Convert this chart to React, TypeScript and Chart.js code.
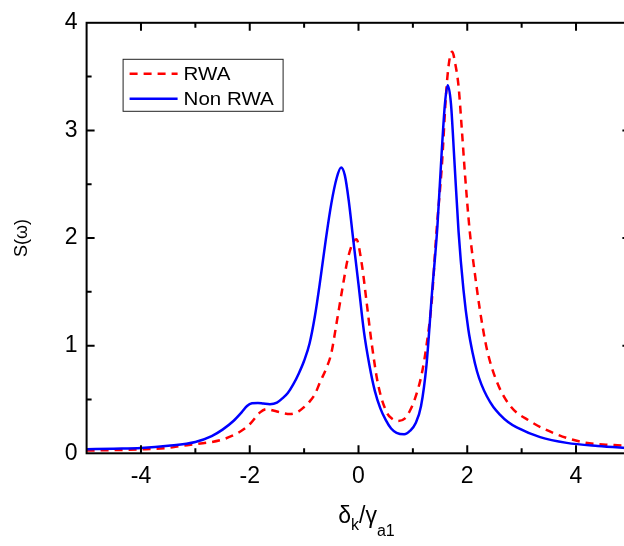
import React, { useEffect, useRef } from "react";
import { Chart, registerables } from "chart.js";

Chart.register(...registerables);

// Non RWA (solid blue)
const nonRwaX = [
  -5, -4.5, -4, -3.5, -3, -2.7, -2.5, -2.3, -2.15, -2.05, -1.96, -1.85, -1.75, -1.63, -1.5, -1.4,
  -1.3, -1.2, -1.1, -1.0, -0.9, -0.8, -0.7, -0.6, -0.5, -0.4, -0.32, -0.25, -0.18, -0.1, 0, 0.1,
  0.2, 0.3, 0.4, 0.5, 0.6, 0.7, 0.84, 0.95, 1.05, 1.15, 1.25, 1.35, 1.45, 1.53, 1.59, 1.64, 1.7,
  1.76, 1.84, 1.93, 2.02, 2.1, 2.18, 2.26, 2.36, 2.48, 2.6, 2.75, 2.91, 3.34, 3.83, 4.4, 5.0,
];
const nonRwaY = [
  0.037, 0.043, 0.05, 0.07, 0.105, 0.16, 0.22, 0.3, 0.38, 0.44, 0.465, 0.468, 0.462, 0.456, 0.47,
  0.51, 0.56, 0.64, 0.74, 0.86, 1.02, 1.28, 1.62, 1.99, 2.32, 2.56, 2.655, 2.58, 2.35, 2.0, 1.57,
  1.13, 0.82, 0.58, 0.42, 0.31, 0.23, 0.19, 0.176, 0.21, 0.28, 0.44, 0.82, 1.48, 2.1, 2.8, 3.25,
  3.42, 3.25, 2.75, 2.06, 1.52, 1.15, 0.93, 0.76, 0.64, 0.53, 0.43, 0.36, 0.29, 0.24, 0.15, 0.097,
  0.068, 0.048,
];

// RWA (dashed red)
const rwaX = [
  -5, -4.5, -4, -3.5, -3.28, -3, -2.5, -2.18, -2.0, -1.81, -1.69, -1.55, -1.44, -1.26, -1.1, -1.01,
  -0.9, -0.8, -0.7, -0.6, -0.5, -0.4, -0.3, -0.2, -0.1, -0.04, 0.06, 0.15, 0.24, 0.36, 0.52, 0.62,
  0.72, 0.855, 0.95, 1.04, 1.16, 1.25, 1.35, 1.41, 1.44, 1.53, 1.62, 1.68, 1.725, 1.775, 1.84, 1.9,
  1.96, 2.05, 2.14, 2.23, 2.36, 2.54, 2.79, 3.15, 3.6, 4.15, 4.7, 5.0,
];
const rwaY = [
  0.025, 0.03, 0.036, 0.05, 0.067, 0.085, 0.128, 0.2, 0.27, 0.38, 0.41, 0.395, 0.38, 0.365, 0.39,
  0.425, 0.48, 0.55, 0.67, 0.78, 0.93, 1.22, 1.52, 1.8, 1.96, 1.99, 1.76, 1.4, 1.03, 0.64, 0.38,
  0.32, 0.3, 0.325, 0.4, 0.51, 0.73, 1.0, 1.43, 1.885, 2.1, 2.65, 3.41, 3.68, 3.73, 3.63, 3.41,
  3.01, 2.58, 2.04, 1.67, 1.34, 0.97, 0.67, 0.44, 0.3, 0.185, 0.1, 0.076, 0.068,
];

const seriesNames = ["RWA", "Non RWA"];
const seriesColors = ["#ff0000", "#0000ff"];
const xTickValues = [-4, -2, 0, 2, 4];
const yTickValues = [0, 1, 2, 3, 4];
const xMin = -5;
const xMax = 5;
const yMin = 0;
const yMax = 4;
const yTitle = "S(ω)";

const FONT = '"Liberation Sans", Arial, sans-serif';

export default function App() {
  const ref = useRef<HTMLCanvasElement>(null);

  useEffect(() => {
    const canvas = ref.current!;

    const framePlugin = {
      id: "framePlugin",
      afterDraw(chart: any) {
        const { ctx, chartArea: a, scales } = chart;
        const xs = scales.x;
        const ys = scales.y;
        ctx.save();
        // frame
        ctx.strokeStyle = "#000";
        ctx.lineWidth = 2;
        ctx.strokeRect(a.left, a.top, a.right - a.left, a.bottom - a.top);
        // inward ticks
        ctx.beginPath();
        for (let v = xMin + 1; v < xMax; v += 1) {
          const p = xs.getPixelForValue(v);
          const len = Math.abs(v) % 2 === 0 ? 8 : 5;
          ctx.moveTo(p, a.bottom);
          ctx.lineTo(p, a.bottom - len);
          ctx.moveTo(p, a.top);
          ctx.lineTo(p, a.top + len);
        }
        for (let v = yMin + 0.5; v < yMax; v += 0.5) {
          const p = ys.getPixelForValue(v);
          const len = Number.isInteger(v) ? 8 : 5;
          ctx.moveTo(a.left, p);
          ctx.lineTo(a.left + len, p);
          ctx.moveTo(a.right, p);
          ctx.lineTo(a.right - len, p);
        }
        ctx.stroke();

        // legend
        const lx = a.left + 36;
        const ly = a.top + 36;
        const lw = 160;
        const lh = 52;
        ctx.fillStyle = "#fff";
        ctx.fillRect(lx, ly, lw, lh);
        ctx.lineWidth = 1;
        ctx.strokeStyle = "#222";
        ctx.strokeRect(lx + 0.5, ly + 0.5, lw, lh);
        const rows = [ly + 15, ly + 40];
        seriesNames.forEach((name, i) => {
          ctx.beginPath();
          ctx.strokeStyle = seriesColors[i];
          ctx.lineWidth = 2.5;
          ctx.setLineDash(i === 0 ? [8, 6] : []);
          ctx.moveTo(lx + 7, rows[i]);
          ctx.lineTo(lx + 55, rows[i]);
          ctx.stroke();
          ctx.setLineDash([]);
          ctx.fillStyle = "#000";
          ctx.font = `19px ${FONT}`;
          ctx.textAlign = "left";
          ctx.textBaseline = "middle";
          ctx.save();
          ctx.translate(lx + 61, rows[i] + 1);
          ctx.scale(1.08, 1);
          ctx.fillText(name, 0, 0);
          ctx.restore();
        });

        // x-axis title with subscripts: δ_k / γ_a1
        const parts: [string, number, number][] = [
          ["δ", 23, 0],
          ["k", 16, 7],
          ["/", 23, 0],
          ["γ", 23, 0],
          ["a1", 16, 13],
        ];
        let total = 0;
        const widths = parts.map(([t, s]) => {
          ctx.font = `${s}px ${FONT}`;
          const w = ctx.measureText(t).width;
          total += w;
          return w;
        });
        let cx = (a.left + a.right) / 2 + 8 - total / 2;
        const base = a.bottom + 70;
        ctx.fillStyle = "#000";
        ctx.textAlign = "left";
        ctx.textBaseline = "alphabetic";
        parts.forEach(([t, s, dy], i) => {
          ctx.font = `${s}px ${FONT}`;
          ctx.fillText(t, cx, base + dy);
          cx += widths[i];
        });
        ctx.restore();
      },
    };

    const chart = new Chart(canvas, {
      type: "line",
      data: {
        datasets: [
          {
            label: seriesNames[1],
            data: nonRwaX.map((x, i) => ({ x, y: nonRwaY[i] })),
            borderColor: seriesColors[1],
            borderWidth: 2.5,
            pointRadius: 0,
            fill: false,
            cubicInterpolationMode: "monotone",
          },
          {
            label: seriesNames[0],
            data: rwaX.map((x, i) => ({ x, y: rwaY[i] })),
            borderColor: seriesColors[0],
            borderWidth: 2.5,
            borderDash: [8, 6],
            pointRadius: 0,
            fill: false,
            cubicInterpolationMode: "monotone",
          },
        ],
      },
      options: {
        responsive: false,
        animation: false,
        layout: { padding: { left: 0, top: 15, right: 9.6, bottom: 0 } },
        plugins: { legend: { display: false }, tooltip: { enabled: false } },
        scales: {
          x: {
            type: "linear",
            min: xMin,
            max: xMax,
            afterBuildTicks(s: any) {
              s.ticks = xTickValues.map((value) => ({ value }));
            },
            afterFit(s: any) {
              s.height = 92.7;
            },
            grid: { display: false, drawTicks: false },
            border: { display: false },
            ticks: {
              padding: 10,
              color: "#000",
              font: { family: FONT, size: 23 },
            },
          },
          y: {
            type: "linear",
            min: yMin,
            max: yMax,
            afterBuildTicks(s: any) {
              s.ticks = yTickValues.map((value) => ({ value }));
            },
            afterFit(s: any) {
              s.width = 86.6;
            },
            grid: { display: false, drawTicks: false },
            border: { display: false },
            ticks: {
              padding: 9,
              color: "#000",
              font: { family: FONT, size: 23 },
            },
            title: {
              display: true,
              text: yTitle,
              color: "#000",
              font: { family: FONT, size: 18 },
              padding: { top: 11, bottom: 0 },
            },
          },
        },
      },
      plugins: [framePlugin],
    });

    return () => chart.destroy();
  }, []);

  return (
    <div
      style={{
        position: "absolute",
        left: 0,
        top: 0,
        width: 624,
        height: 546,
        overflow: "hidden",
        background: "#fff",
      }}
    >
      <canvas ref={ref} width={640} height={546} style={{ display: "block" }} />
    </div>
  );
}
